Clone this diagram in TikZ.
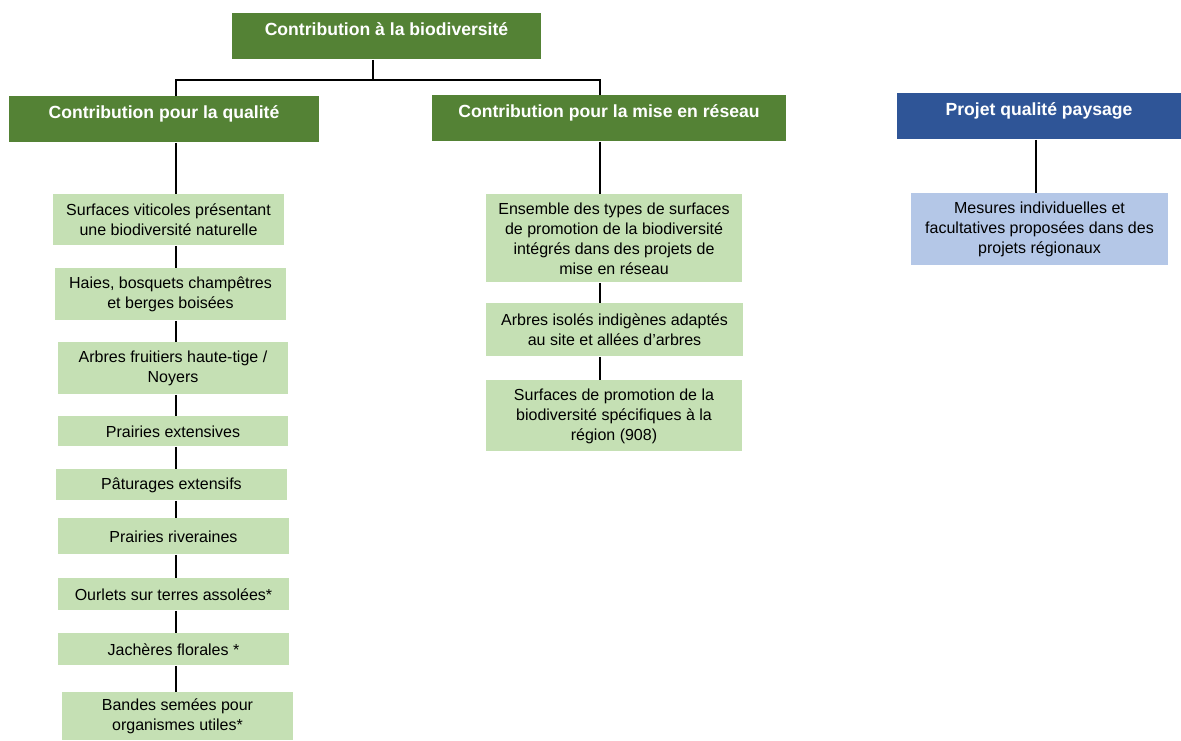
\documentclass[tikz,border=0pt]{standalone}
\usepackage{fontspec}
\setmainfont{Liberation Sans}
\definecolor{headgreen}{HTML}{548235}
\definecolor{itemgreen}{HTML}{C5E0B4}
\definecolor{headblue}{HTML}{2F5597}
\definecolor{itemblue}{HTML}{B4C7E7}
\tikzset{headbox/.style={fill=headgreen,text=white,font=\fontsize{8.8}{10.5}\selectfont\bfseries,inner sep=0pt,text height=11.15pt,text depth=11.85pt,anchor=north}}
\tikzset{itembox/.style={fill=itemgreen,font=\fontsize{8}{10}\selectfont,inner sep=0pt,align=center,anchor=north}}
\tikzset{tree/.style={black,line width=1pt}}

\begin{document}
\begin{tikzpicture}[x=0.5pt,y=-0.5pt]
	\useasboundingbox (0,0) rectangle (1181,740);

	% headers
	\node[headbox,minimum width=154.5pt] (bio) at (386.5,13) {Contribution à la biodiversité};
	\node[headbox,minimum width=155pt] (qual) at (164,96) {Contribution pour la qualité};
	\node[headbox,minimum width=177pt] (res) at (609,95) {Contribution pour la mise en réseau};
	\node[headbox,fill=headblue,minimum width=142pt] (pay) at (1039,93) {Projet qualité paysage};

	% quality column
	\node[itembox,minimum width=115.5pt,minimum height=25.5pt] (q1) at (168.5,194) {Surfaces viticoles présentant\\une biodiversité naturelle};
	\node[itembox,minimum width=115.5pt,minimum height=26pt] (q2) at (170.5,268) {Haies, bosquets champêtres\\et berges boisées};
	\node[itembox,minimum width=115pt,minimum height=26pt] (q3) at (173,342) {Arbres fruitiers haute-tige /\\Noyers};
	\node[itembox,minimum width=115pt,minimum height=15pt] (q4) at (173,416) {Prairies extensives};
	\node[itembox,minimum width=115.5pt,minimum height=15.5pt] (q5) at (171.5,469) {Pâturages extensifs};
	\node[itembox,minimum width=115.5pt,minimum height=18pt] (q6) at (173.5,518) {Prairies riveraines};
	\node[itembox,minimum width=115.5pt,minimum height=16pt] (q7) at (173.5,578) {Ourlets sur terres assolées*};
	\node[itembox,minimum width=115.5pt,minimum height=16pt] (q8) at (173.5,633) {Jachères florales *};
	\node[itembox,minimum width=115.5pt,minimum height=24pt] (q9) at (177.5,692) {Bandes semées pour\\organismes utiles*};

	% network column
	\node[itembox,minimum width=128pt,minimum height=44pt] (r1) at (614,194) {Ensemble des types de surfaces\\de promotion de la biodiversité\\intégrés dans des projets de\\mise en réseau};
	\node[itembox,minimum width=128.5pt,minimum height=26.5pt] (r2) at (614.5,303) {Arbres isolés indigènes adaptés\\au site et allées d’arbres};
	\node[itembox,minimum width=128pt,minimum height=35.5pt] (r3) at (614,380) {Surfaces de promotion de la\\biodiversité spécifiques à la\\région (908)};

	% landscape
	\node[itembox,fill=itemblue,minimum width=128.5pt,minimum height=36pt] (p1) at (1039.5,193) {Mesures individuelles et\\facultatives proposées dans des\\projets régionaux};

	% lines
	\coordinate (fork) at (373,80);
	\coordinate (lq) at (176,80);
	\coordinate (lr) at (600,80);
	\coordinate (lp) at (1036,0);
	\draw[tree] (bio.south -| fork) -- (fork);
	\draw[tree] (qual.north -| lq) -- (lq) -- (lr) -- (res.north -| lr);
	\foreach \a/\b in {qual/q1,q1/q2,q2/q3,q3/q4,q4/q5,q5/q6,q6/q7,q7/q8,q8/q9}
		\draw[tree] (\a.south -| lq) -- (\b.north -| lq);
	\foreach \a/\b in {res/r1,r1/r2,r2/r3}
		\draw[tree] (\a.south -| lr) -- (\b.north -| lr);
	\draw[tree] (pay.south -| lp) -- (p1.north -| lp);
\end{tikzpicture}
\end{document}
